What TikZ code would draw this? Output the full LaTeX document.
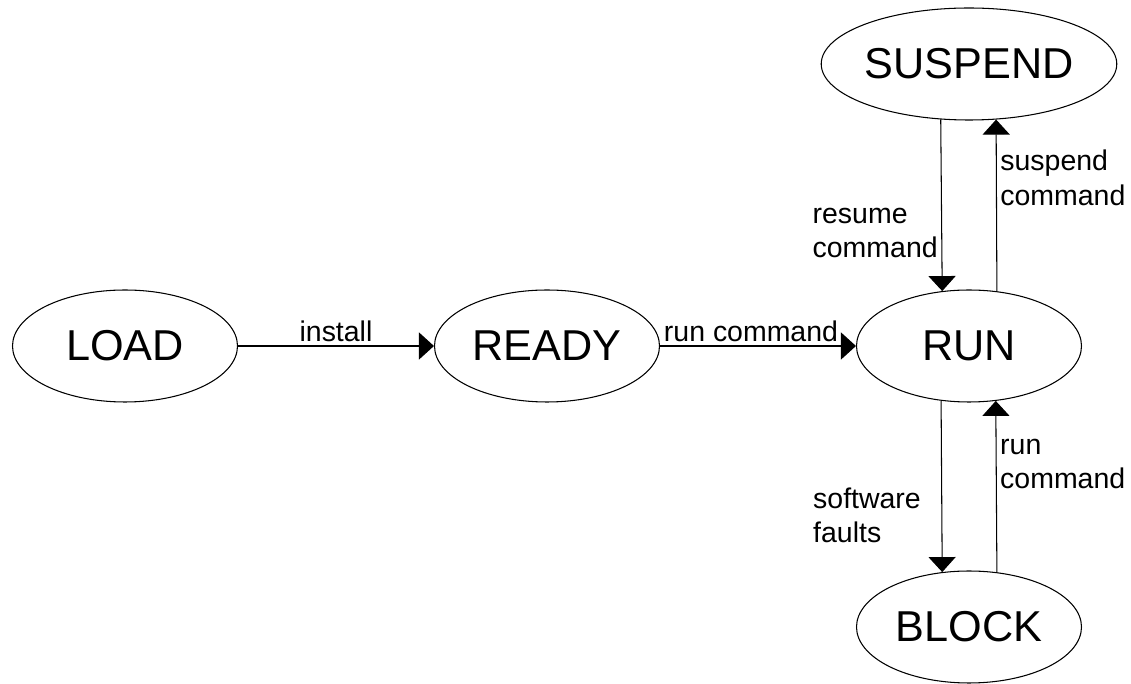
\documentclass[tikz,border=0pt]{standalone}
\usepackage{fontspec}
\setmainfont{Liberation Sans}
\usetikzlibrary{arrows.meta,shapes.geometric}

\begin{document}
\begin{tikzpicture}[
    >={Triangle[length=3mm, width=5.4mm]},
    state/.style={draw=black, ellipse, line width=0.6pt, inner sep=0pt, minimum width=45mm, minimum height=22.4mm, font=\fontsize{24.6}{28}\selectfont},
    arrow/.style={black, ->, line width=0.6pt},
    edgelabel/.style={font=\fontsize{16.2}{19.5}\selectfont, align=left, inner sep=2pt},
]
    \useasboundingbox (0,0) rectangle (22.62,13.68);

    % =====================================================================
    % STATES
    % =====================================================================
    \node[state] (load) at (2.5, 6.76) {LOAD};
    \node[state] (ready) at (10.94, 6.76) {READY};
    \node[state] (run) at (19.38, 6.76) {RUN};
    \node[state] (suspend) at (19.38, 12.4) {SUSPEND};
    \node[state] (block) at (19.38, 1.14) {BLOCK};

    % =====================================================================
    % TRANSITIONS
    % =====================================================================
    \draw[arrow] (load) -- (ready) node[edgelabel, midway, above] {install};
    \draw[arrow] (ready) -- (run) node[edgelabel, midway, above, xshift=-1.4mm] {run command};

    % Run <-> Suspend
    \draw[arrow] (suspend.243.6) -- (run.116.4) node[edgelabel, pos=0.66, left] {resume\\command};
    \draw[arrow] (run.63.6) -- (suspend.296.4) node[edgelabel, pos=0.66, right] {suspend\\command};

    % Run <-> Block
    \draw[arrow] (run.243.6) -- (block.116.4) node[edgelabel, pos=0.67, left, xshift=-3.4mm] {software\\faults};
    \draw[arrow] (block.63.6) -- (run.296.4) node[edgelabel, pos=0.63, right] {run\\command};

\end{tikzpicture}
\end{document}
